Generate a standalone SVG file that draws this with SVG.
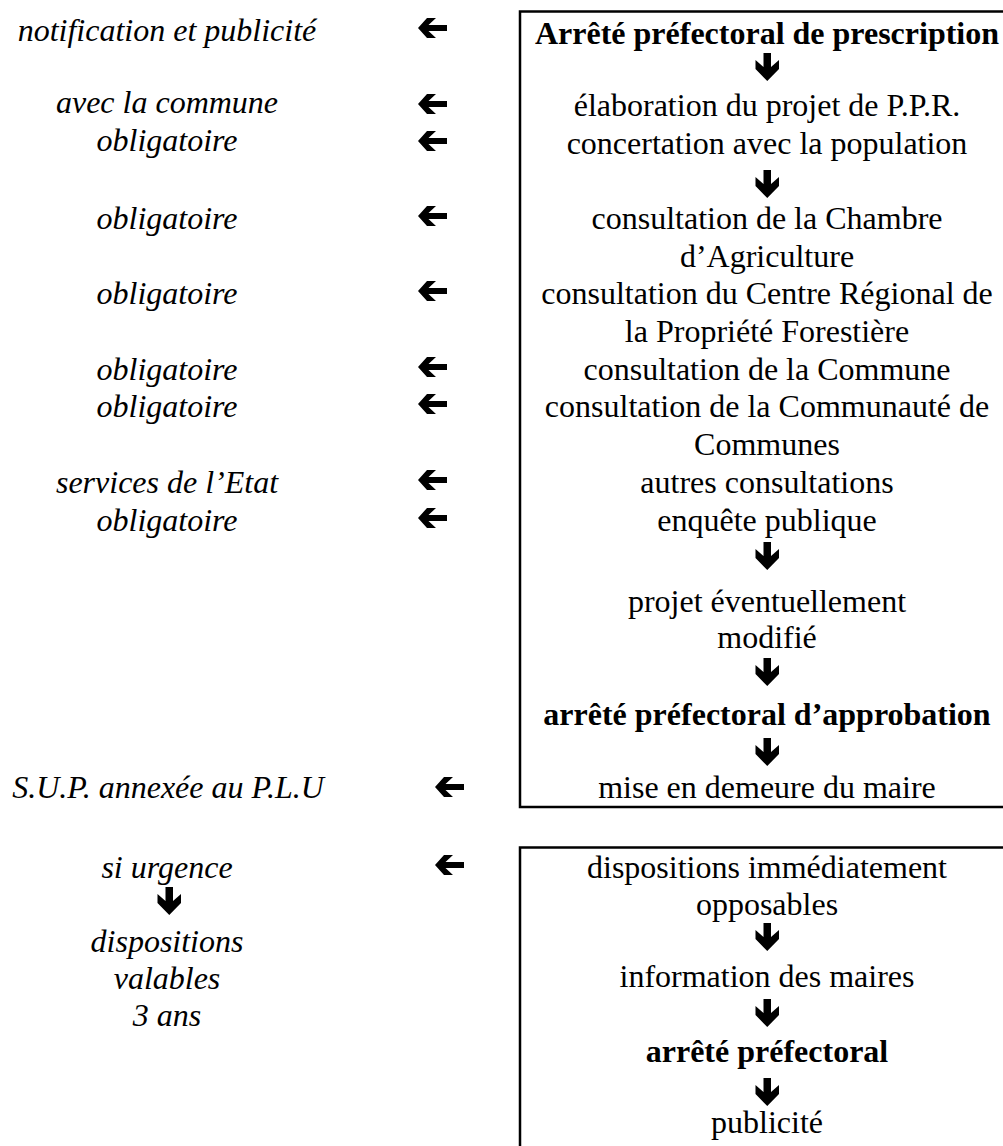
<svg xmlns="http://www.w3.org/2000/svg" width="1003" height="1146" viewBox="0 0 1003 1146">
<style>
.t{font-family:"Liberation Serif","Times New Roman",serif;font-size:32px;fill:#000;text-anchor:middle}
.b{font-weight:bold}
.i{font-style:italic}
.box{fill:none;stroke:#000;stroke-width:2.5}
</style>
<defs>
<path id="la" d="M0,10 L9,0 L18,0 L10.5,7 L29,7 L29,13 L10.5,13 L18,20 L9,20 Z" fill="#000"/>
<path id="da" d="M8.5,0 H16 V14 L24,7 V16 L12.25,28 L0.5,16 V7 L8.5,14 Z" fill="#000"/>
</defs>
<rect width="1003" height="1146" fill="#fff"/>
<g id="box-procedure">
<rect class="box" x="520" y="11.5" width="500" height="795.5"/>
<text class="t b" x="767" y="44">Arrêté préfectoral de prescription</text>
<text class="t" x="767" y="116">élaboration du projet de P.P.R.</text>
<text class="t" x="767" y="154">concertation avec la population</text>
<text class="t" x="767" y="229">consultation de la Chambre</text>
<text class="t" x="767" y="267">d’Agriculture</text>
<text class="t" x="767" y="304">consultation du Centre Régional de</text>
<text class="t" x="767" y="342">la Propriété Forestière</text>
<text class="t" x="767" y="380">consultation de la Commune</text>
<text class="t" x="767" y="417">consultation de la Communauté de</text>
<text class="t" x="767" y="455">Communes</text>
<text class="t" x="767" y="493">autres consultations</text>
<text class="t" x="767" y="531">enquête publique</text>
<text class="t" x="767" y="612">projet éventuellement</text>
<text class="t" x="767" y="648">modifié</text>
<text class="t b" x="767" y="725">arrêté préfectoral d’approbation</text>
<text class="t" x="767" y="798">mise en demeure du maire</text>
</g>
<g id="box-urgence">
<rect class="box" x="520" y="847.5" width="500" height="310"/>
<text class="t" x="767" y="878">dispositions immédiatement</text>
<text class="t" x="767" y="915">opposables</text>
<text class="t" x="767" y="987">information des maires</text>
<text class="t b" x="767" y="1062">arrêté préfectoral</text>
<text class="t" x="767" y="1133">publicité</text>
</g>
<g id="labels">
<text class="t i" x="167" y="41">notification et publicité</text>
<text class="t i" x="167" y="113">avec la commune</text>
<text class="t i" x="167" y="151">obligatoire</text>
<text class="t i" x="167" y="229">obligatoire</text>
<text class="t i" x="167" y="304">obligatoire</text>
<text class="t i" x="167" y="380">obligatoire</text>
<text class="t i" x="167" y="417">obligatoire</text>
<text class="t i" x="167" y="493">services de l’Etat</text>
<text class="t i" x="167" y="531">obligatoire</text>
<text class="t i" x="168" y="798">S.U.P. annexée au P.L.U</text>
<text class="t i" x="167" y="878">si urgence</text>
<text class="t i" x="167" y="952">dispositions</text>
<text class="t i" x="167" y="989">valables</text>
<text class="t i" x="167" y="1026">3 ans</text>
</g>
<g id="connectors">
<use href="#la" x="418" y="18"/>
<use href="#la" x="418" y="94"/>
<use href="#la" x="418" y="131"/>
<use href="#la" x="418" y="206"/>
<use href="#la" x="418" y="281"/>
<use href="#la" x="418" y="357"/>
<use href="#la" x="418" y="394"/>
<use href="#la" x="418" y="470"/>
<use href="#la" x="418" y="508"/>
<use href="#la" x="435" y="777"/>
<use href="#la" x="435" y="855"/>
<use href="#da" x="755" y="53"/>
<use href="#da" x="755" y="170"/>
<use href="#da" x="755" y="542"/>
<use href="#da" x="755" y="658"/>
<use href="#da" x="755" y="738"/>
<use href="#da" x="755" y="923"/>
<use href="#da" x="755" y="999"/>
<use href="#da" x="755" y="1078"/>
<use href="#da" x="157" y="887"/>
</g>
</svg>
